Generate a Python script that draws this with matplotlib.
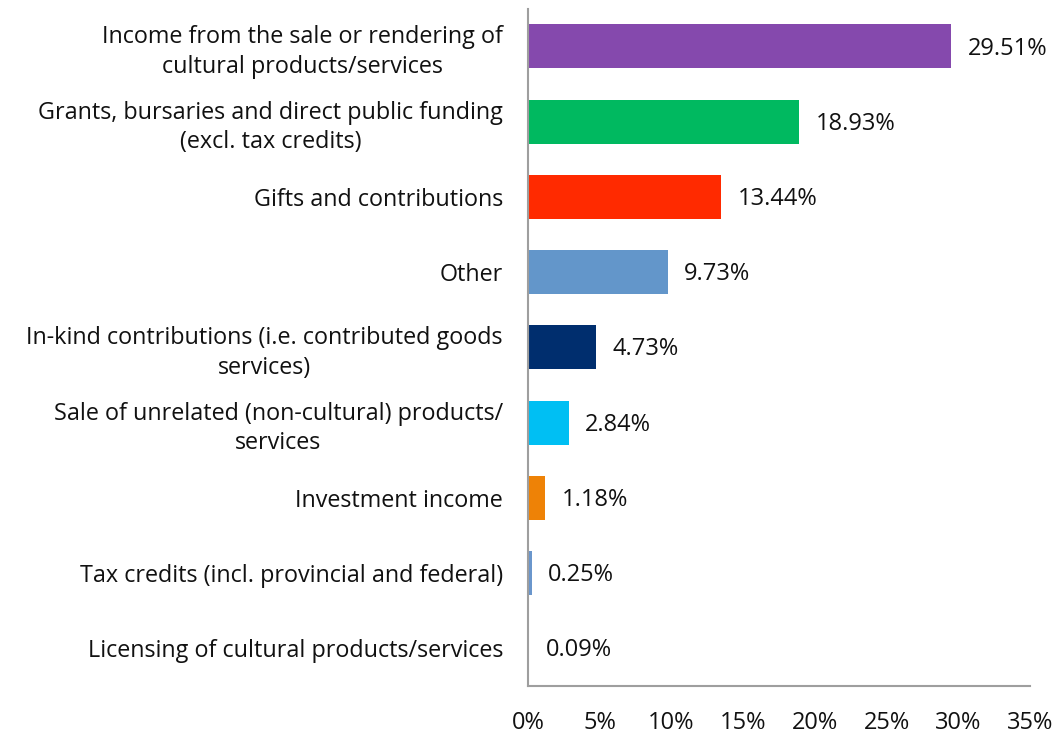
import matplotlib
matplotlib.use("Agg")
import matplotlib.pyplot as plt
from matplotlib.ticker import FuncFormatter

categories = [
    "Income from the sale or rendering of\ncultural products/services",
    "Grants, bursaries and direct public funding\n(excl. tax credits)",
    "Gifts and contributions",
    "Other",
    "In-kind contributions (i.e. contributed goods\nservices)",
    "Sale of unrelated (non-cultural) products/\nservices",
    "Investment income",
    "Tax credits (incl. provincial and federal)",
    "Licensing of cultural products/services",
]
values = [29.51, 18.93, 13.44, 9.73, 4.73, 2.84, 1.18, 0.25, 0.09]
colors = ["#8549AD", "#00B960", "#FF2A00", "#6396CA", "#002E6E",
          "#00BFF3", "#EE8206", "#6A96CC", "#A9C2E0"]
xticks = [0, 5, 10, 15, 20, 25, 30, 35]

plt.rcParams["font.family"] = ["Open Sans", "DejaVu Sans"]

fig = plt.figure(figsize=(10.58, 7.36), dpi=100)
ax = fig.add_axes([0.499, 0.068, 0.4745, 0.92])

ypos = list(range(len(categories)))
ax.barh(ypos, values, height=0.585, color=colors)
ax.set_ylim(len(categories) - 0.5, -0.5)
ax.set_xlim(0, 35)

for y, v in zip(ypos, values):
    ax.annotate(f"{v:.2f}%", xy=(v, y), xytext=(12, -1.5), textcoords="offset points",
                va="center", ha="left", fontsize=17, color="#111111")

ax.set_yticks(ypos)
ax.set_yticklabels(categories, fontsize=16.8, color="#111111", linespacing=1.32)
for lbl in ax.get_yticklabels():
    lbl.set_multialignment("center")
ax.set_xticks(xticks)
ax.xaxis.set_major_formatter(FuncFormatter(lambda x, p: f"{x:.0f}%"))
ax.tick_params(axis="x", length=0, pad=18, labelsize=17, labelcolor="#111111")
ax.tick_params(axis="y", length=0, pad=18)

for s in ("top", "right"):
    ax.spines[s].set_visible(False)
for s in ("left", "bottom"):
    ax.spines[s].set_color("#9E9E9E")
    ax.spines[s].set_linewidth(1.5)

fig.savefig("out.png", dpi=100, facecolor="white")
